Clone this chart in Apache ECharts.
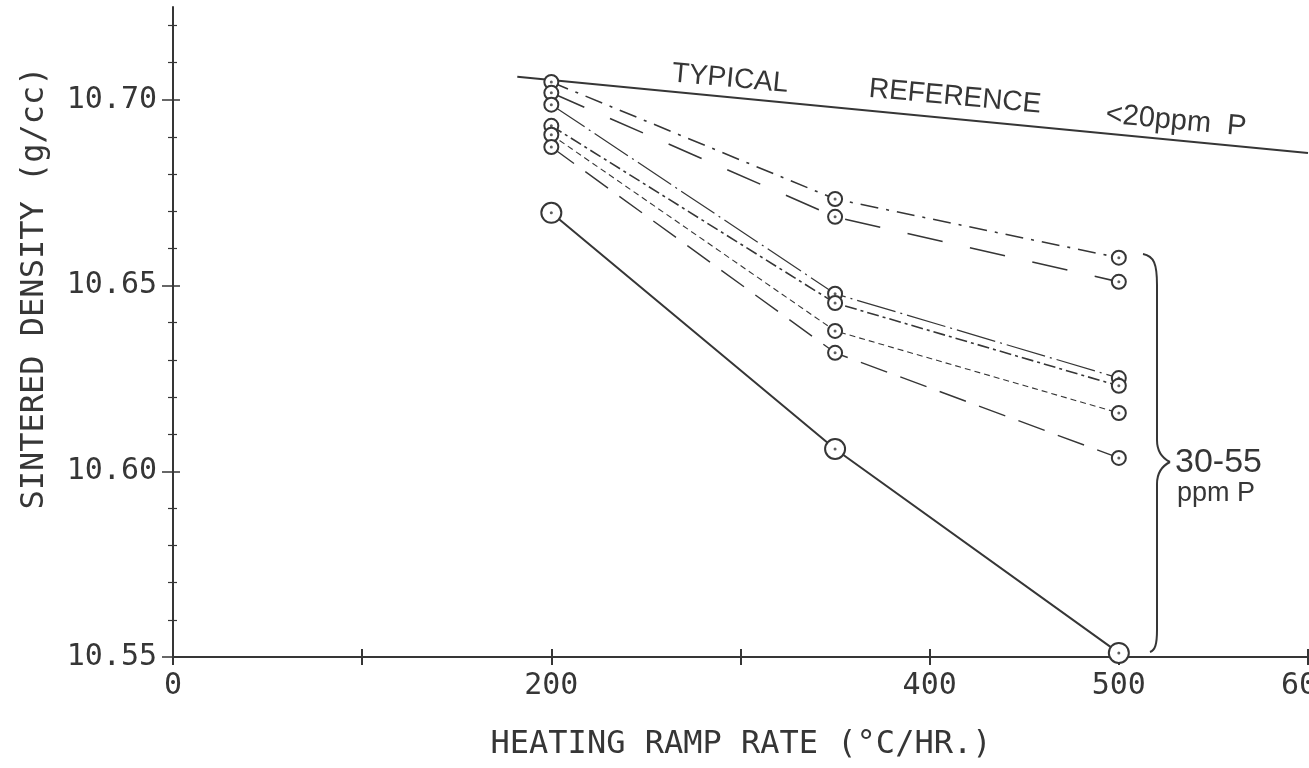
<!DOCTYPE html>
<html>
<head>
<meta charset="utf-8">
<script src="https://cdn.jsdelivr.net/npm/echarts@6/dist/echarts.min.js"></script>
<style>
	html, body { margin: 0; padding: 0; background: #fff; }
	#chart { width: 1309px; height: 768px; }
</style>
</head>
<body>
<div id="chart"></div>
<script>
	// heating ramp rates (°C/hr) where samples were measured
	var rates = [200, 350, 500];
	// sintered density (g/cc), 30-55 ppm P samples
	var sampleA = [10.7048, 10.6733, 10.6575];
	var sampleB = [10.7019, 10.6685, 10.6510];
	var sampleC = [10.6987, 10.6478, 10.6251];
	var sampleD = [10.6930, 10.6453, 10.6230];
	var sampleE = [10.6906, 10.6378, 10.6157];
	var sampleF = [10.6873, 10.6319, 10.6036];
	var sampleG = [10.6696, 10.6060, 10.5511];
	// typical reference line (<20 ppm P)
	var refRates = [182, 600];
	var refDensity = [10.7062, 10.6857];

	var xLabelValues = [0, 200, 400, 500, 600];
	var xTickValues = [0, 100, 200, 300, 400, 500, 600];
	var yLabelValues = [10.55, 10.60, 10.65, 10.70];
	var yMinorValues = [10.56, 10.57, 10.58, 10.59, 10.61, 10.62, 10.63, 10.64,
		10.66, 10.67, 10.68, 10.69, 10.71, 10.72];

	var ink = '#363636';
	var mono = '"DejaVu Sans Mono", "Liberation Mono", monospace';
	var hand = '"Liberation Sans", sans-serif';

	function pairs(xs, ys) {
		return xs.map(function (x, i) { return [x, ys[i]]; });
	}

	var samples = [
		{ data: sampleA, type: [18, 8, 3, 8], width: 1.6 },
		{ data: sampleB, type: [36, 28], width: 1.6 },
		{ data: sampleC, type: [40, 5, 2, 5], width: 1.2 },
		{ data: sampleD, type: [12, 4, 3, 4], width: 1.6 },
		{ data: sampleE, type: [6, 4], width: 1.1 },
		{ data: sampleF, type: [28, 14], width: 1.4 }
	];

	var series = [];
	series.push({
		type: 'line',
		data: pairs(refRates, refDensity),
		symbol: 'none',
		lineStyle: { color: ink, width: 2 },
		z: 2
	});
	samples.forEach(function (s) {
		series.push({
			type: 'line',
			data: pairs(rates, s.data),
			symbol: 'emptyCircle',
			symbolSize: 14,
			lineStyle: { color: ink, width: s.width, type: s.type },
			itemStyle: { color: ink, borderColor: ink, borderWidth: 2 },
			z: 3
		});
	});
	series.push({
		type: 'line',
		data: pairs(rates, sampleG),
		symbol: 'emptyCircle',
		symbolSize: 20,
		lineStyle: { color: ink, width: 2 },
		itemStyle: { color: ink, borderColor: ink, borderWidth: 2 },
		z: 3
	});
	// centre dots of the circle markers
	var dots = [];
	[sampleA, sampleB, sampleC, sampleD, sampleE, sampleF, sampleG].forEach(function (arr) {
		dots = dots.concat(pairs(rates, arr));
	});
	series.push({
		type: 'scatter',
		data: dots,
		symbol: 'circle',
		symbolSize: 3,
		itemStyle: { color: ink },
		z: 5
	});

	// curly brace round the 500 °C/hr points
	var braceStyle = { stroke: ink, lineWidth: 2, fill: null };
	var brace = [
		{ type: 'bezierCurve', shape: { x1: 1143, y1: 254, cpx1: 1154, cpy1: 256, cpx2: 1157, cpy2: 264, x2: 1157, y2: 285 }, style: braceStyle },
		{ type: 'line', shape: { x1: 1157, y1: 285, x2: 1157, y2: 440 }, style: braceStyle },
		{ type: 'bezierCurve', shape: { x1: 1157, y1: 440, cpx1: 1157, cpy1: 452, cpx2: 1162, cpy2: 458, x2: 1170, y2: 462 }, style: braceStyle },
		{ type: 'bezierCurve', shape: { x1: 1170, y1: 462, cpx1: 1162, cpy1: 466, cpx2: 1157, cpy2: 472, x2: 1157, y2: 484 }, style: braceStyle },
		{ type: 'line', shape: { x1: 1157, y1: 484, x2: 1157, y2: 630 }, style: braceStyle },
		{ type: 'bezierCurve', shape: { x1: 1157, y1: 630, cpx1: 1157, cpy1: 645, cpx2: 1155, cpy2: 650, x2: 1150, y2: 652 }, style: braceStyle }
	];

	var myChart = echarts.init(document.getElementById('chart'));
	var option = {
		backgroundColor: '#fff',
		animation: false,
		grid: { left: 173, right: 1, top: 7, bottom: 111, containLabel: false, outerBoundsMode: 'none' },
		xAxis: [{
			type: 'value',
			min: 0,
			max: 600,
			axisLine: { onZero: false, lineStyle: { color: ink, width: 2 } },
			axisTick: { inside: true, length: 8, customValues: xTickValues, lineStyle: { color: ink, width: 2 } },
			axisLabel: { customValues: xLabelValues, margin: 14, color: ink, fontSize: 30, fontFamily: mono, hideOverlap: false },
			splitLine: { show: false }
		}, {
			type: 'value',
			min: 0,
			max: 600,
			position: 'bottom',
			axisLine: { show: false, onZero: false },
			axisTick: { inside: false, length: 8, customValues: xTickValues, lineStyle: { color: ink, width: 2 } },
			axisLabel: { show: false },
			splitLine: { show: false }
		}],
		yAxis: [{
			type: 'value',
			min: 10.55,
			max: 10.725,
			position: 'left',
			axisLine: { show: true, onZero: false, lineStyle: { color: ink, width: 2 } },
			axisTick: { inside: false, length: 11, customValues: yLabelValues, lineStyle: { color: ink, width: 1.5 } },
			axisLabel: {
				customValues: yLabelValues, margin: 16, color: ink, fontSize: 30, fontFamily: mono,
				formatter: function (v) { return v.toFixed(2); }
			},
			splitLine: { show: false }
		}, {
			type: 'value',
			min: 10.55,
			max: 10.725,
			position: 'left',
			axisLine: { show: false, onZero: false },
			axisTick: { inside: true, length: 7, customValues: yLabelValues, lineStyle: { color: ink, width: 1.5 } },
			axisLabel: { show: false },
			splitLine: { show: false }
		}, {
			type: 'value',
			min: 10.55,
			max: 10.725,
			position: 'left',
			axisLine: { show: false, onZero: false },
			axisTick: { inside: false, length: 5, customValues: yMinorValues, lineStyle: { color: ink, width: 1.2 } },
			axisLabel: { show: false },
			splitLine: { show: false }
		}, {
			type: 'value',
			min: 10.55,
			max: 10.725,
			position: 'left',
			axisLine: { show: false, onZero: false },
			axisTick: { inside: true, length: 4, customValues: yMinorValues, lineStyle: { color: ink, width: 1.2 } },
			axisLabel: { show: false },
			splitLine: { show: false }
		}],
		graphic: [{
			type: 'text',
			x: 35, y: 288,
			rotation: Math.PI / 2,
			style: { text: 'SINTERED DENSITY (g/cc)', fill: ink, font: '32px ' + mono, align: 'center', verticalAlign: 'middle' }
		}, {
			type: 'text',
			x: 741, y: 745,
			style: { text: 'HEATING RAMP RATE (°C/HR.)', fill: ink, font: '32px ' + mono, align: 'center', verticalAlign: 'middle' }
		}, {
			type: 'text',
			x: 730, y: 79,
			rotation: -0.092,
			style: { text: 'TYPICAL', fill: ink, font: '28px ' + hand, align: 'center', verticalAlign: 'middle' }
		}, {
			type: 'text',
			x: 955, y: 97,
			rotation: -0.092,
			style: { text: 'REFERENCE', fill: ink, font: '28px ' + hand, align: 'center', verticalAlign: 'middle' }
		}, {
			type: 'text',
			x: 1176, y: 121,
			rotation: -0.092,
			style: { text: '<20ppm  P', fill: ink, font: '29px ' + hand, align: 'center', verticalAlign: 'middle' }
		}, {
			type: 'text',
			x: 1175, y: 463,
			style: { text: '30-55', fill: ink, font: '34px ' + hand, align: 'left', verticalAlign: 'middle' }
		}, {
			type: 'text',
			x: 1177, y: 494,
			style: { text: 'ppm P', fill: ink, font: '27px ' + hand, align: 'left', verticalAlign: 'middle' }
		}].concat(brace),
		series: series
	};
	myChart.setOption(option);
</script>
</body>
</html>
